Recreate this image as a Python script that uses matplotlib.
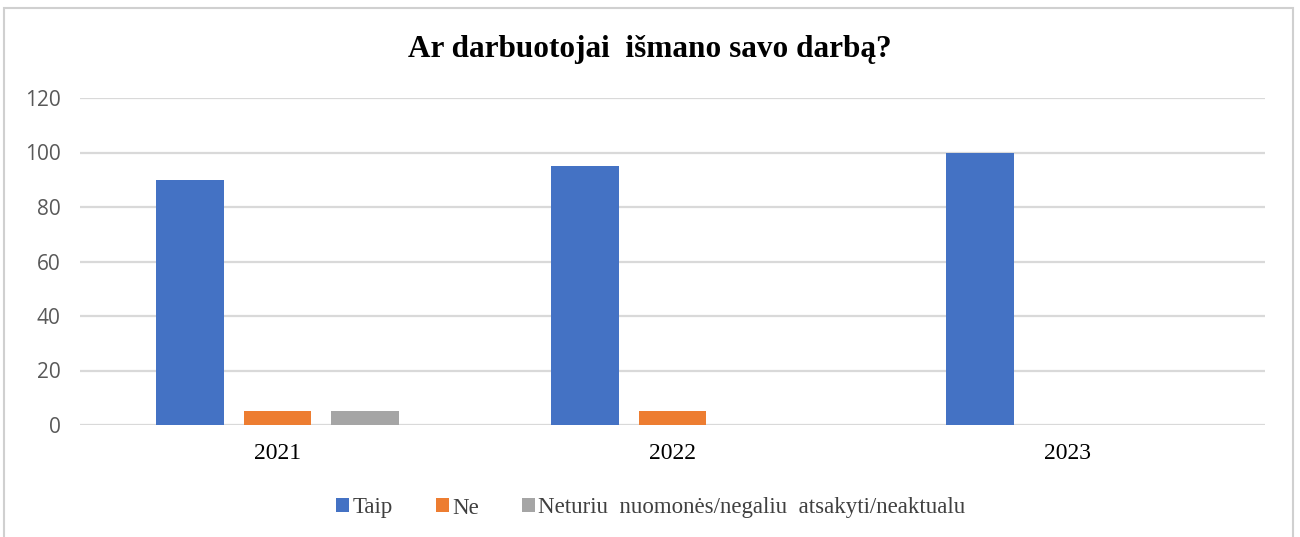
import matplotlib
matplotlib.use("Agg")
import matplotlib.pyplot as plt
from matplotlib.patches import Rectangle
import numpy as np

years = ["2021", "2022", "2023"]
series_names = ["Taip", "Ne", "Neturiu  nuomonės/negaliu  atsakyti/neaktualu"]
taip = [90, 95, 100]
ne = [5, 5, 0]
neturiu = [5, 0, 0]
colors = ["#4472C4", "#ED7D31", "#A5A5A5"]
yticks = [0, 20, 40, 60, 80, 100, 120]

W, H = 1300, 537
fig = plt.figure(figsize=(W / 100, H / 100), dpi=100)
fig.patch.set_facecolor("white")

# chart border (bottom edge lies outside the image)
fig.patches.append(Rectangle((4 / W, -0.05), (1293 - 4) / W, (H - 8) / H + 0.05, transform=fig.transFigure,
                             fill=False, edgecolor="#d0d0d0", linewidth=1.5))

ax = fig.add_axes([80 / W, 1 - 425 / H, (1265 - 80) / W, (425 - 98) / H])
x = np.arange(len(years))
bw = 0.172
offs = [-0.222, 0, 0.222]
for vals, c, o, n in zip([taip, ne, neturiu], colors, offs, series_names):
    ax.bar(x + o, vals, width=bw, color=c, label=n, zorder=3)

ax.set_xlim(-0.5, 2.5)
ax.set_ylim(0, 120)
ax.set_yticks(yticks)
ax.set_yticklabels([str(v) for v in yticks], fontsize=15, color="#595959", family="Open Sans")
ax.set_xticks(x)
ax.set_xticklabels(years, fontsize=17, family="Liberation Serif", color="#000000")
ax.tick_params(axis="both", length=0)
ax.tick_params(axis="y", pad=14)
ax.tick_params(axis="x", pad=13)
ax.grid(axis="y", color="#d9d9d9", linewidth=1.6, zorder=0)
for s in ax.spines.values():
    s.set_visible(False)

fig.text(650 / W, 1 - 50 / H, "Ar darbuotojai  išmano savo darbą?", ha="center", va="center",
         fontsize=22.5, fontweight="bold", family="Liberation Serif")

leg = fig.legend(loc="center", bbox_to_anchor=(651 / W, 1 - 508 / H), ncol=3, frameon=False,
                 prop={"family": "Liberation Serif", "size": 16.5}, handlelength=0.55, handleheight=0.55,
                 handletextpad=0.15, columnspacing=1.9, labelcolor="#404040")

fig.savefig("out.png", dpi=100)
